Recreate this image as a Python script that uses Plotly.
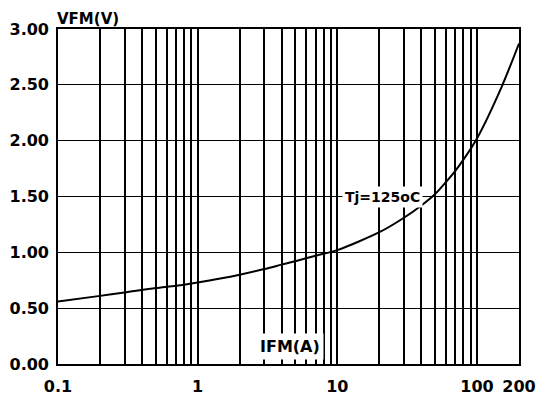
import plotly.graph_objects as go
import math

# Data
current_a = [0.1, 0.2, 0.3, 0.5, 0.7, 1, 2, 3, 4, 5, 7, 10, 20, 30, 40, 50, 60, 70, 80, 100, 150, 200]
voltage_v = [0.56, 0.61, 0.64, 0.68, 0.70, 0.73, 0.80, 0.85, 0.89, 0.92, 0.97, 1.02, 1.18, 1.31, 1.42, 1.52, 1.63, 1.73, 1.83, 2.02, 2.48, 2.87]

x_grid = [0.1, 0.2, 0.3, 0.4, 0.5, 0.6, 0.7, 0.8, 0.9,
          1, 2, 3, 4, 5, 6, 7, 8, 9,
          10, 20, 30, 40, 50, 60, 70, 80, 90, 100, 200]
x_labels = {0.1: "0.1", 1: "1", 10: "10", 100: "100", 200: "200"}
y_ticks = [0, 0.5, 1.0, 1.5, 2.0, 2.5, 3.0]
curve_label = "Tj=125oC"

FAM = "DejaVu Sans, Verdana, sans-serif"
font = dict(family=FAM, size=16, color="black", weight="bold")

fig = go.Figure()
fig.add_trace(go.Scatter(x=current_a, y=voltage_v, mode="lines",
                         line=dict(color="black", width=2, shape="spline", smoothing=0.8),
                         showlegend=False, hoverinfo="skip"))

fig.update_layout(
    width=547, height=401,
    margin=dict(l=58, r=28, t=29, b=37, autoexpand=False),
    paper_bgcolor="white", plot_bgcolor="white",
    font=font,
    xaxis=dict(type="log", range=[-1, math.log10(200)], automargin=False,
               tickvals=x_grid, ticktext=[x_labels.get(v, "") for v in x_grid],
               showgrid=True, gridcolor="black", gridwidth=1.6,
               showline=True, linecolor="black", linewidth=1.6, mirror=True,
               ticks="", zeroline=False, tickfont=font, ticklabelstandoff=7),
    yaxis=dict(range=[0, 3], tickvals=y_ticks, tickformat=".2f", automargin=False,
               showgrid=True, gridcolor="black", gridwidth=1.3,
               showline=True, linecolor="black", linewidth=1.6, mirror=True,
               ticks="", zeroline=False, tickfont=font, ticklabelstandoff=4),
    annotations=[
        dict(text="VFM(V)", xref="paper", yref="paper", x=-0.007, y=1.0, xanchor="left", yanchor="bottom",
             showarrow=False, font=dict(family=FAM, size=15, color="black", weight="bold"), yshift=-1),
        dict(text="IFM(A)", xref="x", yref="y", x=math.log10(4.6), y=0.16, xanchor="center", yanchor="middle",
             showarrow=False, font=font, bgcolor="white", borderpad=3),
        dict(text=curve_label, xref="x", yref="y", x=math.log10(21), y=1.5, xanchor="center", yanchor="middle",
             showarrow=False, font=dict(family=FAM, size=14, color="black", weight="bold"),
             bgcolor="white", borderpad=2),
    ],
)

fig.write_html("out.html", config={"displayModeBar": False},
               post_script="document.body.style.margin='0px';")
